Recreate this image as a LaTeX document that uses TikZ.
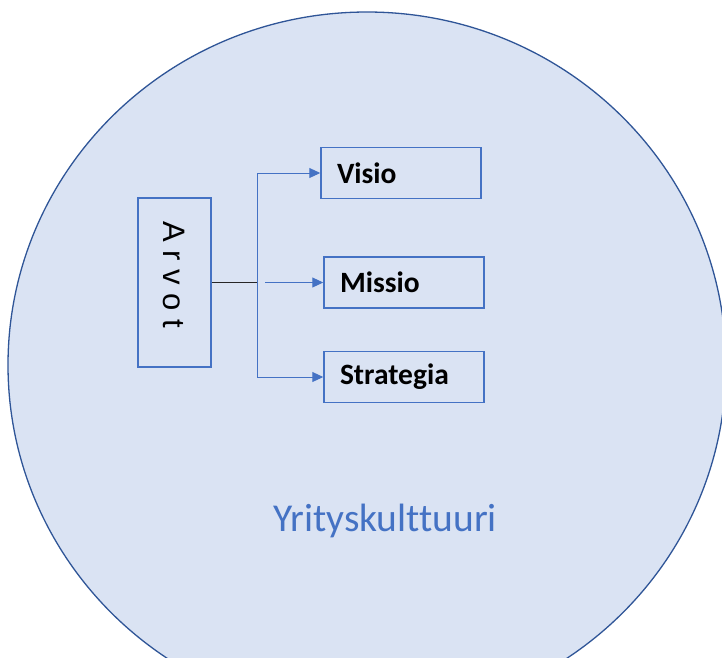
\documentclass[tikz,border=0pt]{standalone}
\usepackage{fontspec}
\setmainfont{Carlito}[Ligatures={NoCommon}]
\newfontfamily\arvotfont{Liberation Sans}
\usepackage{xcolor}
\usepackage{tikz}
\usetikzlibrary{arrows.meta,positioning,shapes.geometric}
\definecolor{CultFill}{HTML}{DAE3F3}
\definecolor{CultEdge}{HTML}{2F5597}
\definecolor{CultBlue}{HTML}{4472C4}
\definecolor{CultDark}{HTML}{262626}
\tikzset{
  goalbox/.style={draw=CultBlue,line width=1.5pt,minimum height=51pt,text width=128pt,inner xsep=16pt,inner ysep=0pt,align=left,font=\fontsize{29.5}{33}\selectfont\bfseries,text=black},
  valuebox/.style={draw=CultBlue,line width=1.5pt,minimum width=73pt,minimum height=169pt,inner sep=0pt},
  flowarrow/.style={-{Triangle[length=11pt,width=10pt]},line width=1pt,draw=CultBlue},
  trunkline/.style={line width=1pt,draw=CultBlue},
  valueline/.style={line width=1pt,draw=CultDark}
}
\begin{document}
\begin{tikzpicture}[x=1pt,y=-1pt]
\useasboundingbox (0,0) rectangle (722,657);
\clip (0,0) rectangle (722,657);
% culture
\node[ellipse,draw=CultEdge,fill=CultFill,line width=1.3pt,minimum width=718pt,minimum height=706pt,inner sep=0pt] (culture) at (367,365) {};
\node[anchor=base,text=CultBlue,font=\fontsize{39.5}{44}\selectfont] (culturelabel) at (385,531) {Yrityskulttuuri};
% values and goals
\node[valuebox] (arvot) at (174.5,282.5) {};
\node[rotate=-90,font=\arvotfont\fontsize{31}{34}\selectfont] (arvotlabel) at ([yshift=8pt]arvot.center) {A r v o t};
\node[goalbox] (visio) at (401,173) {Visio};
\node[goalbox] (missio) at (404,282.5) {Missio};
\node[goalbox] (strategia) at (404,377) {Strategia};
\coordinate (split) at (257,282.5);
\coordinate (missiostart) at (265,282.5);
\draw[valueline] (arvot.east) -- (split);
\draw[trunkline] (visio.west -| split) -- (strategia.west -| split);
\draw[flowarrow] (visio.west -| split) -- (visio.west);
\draw[flowarrow] (missiostart) -- (missio.west);
\draw[flowarrow] (strategia.west -| split) -- (strategia.west);
\end{tikzpicture}
\end{document}
